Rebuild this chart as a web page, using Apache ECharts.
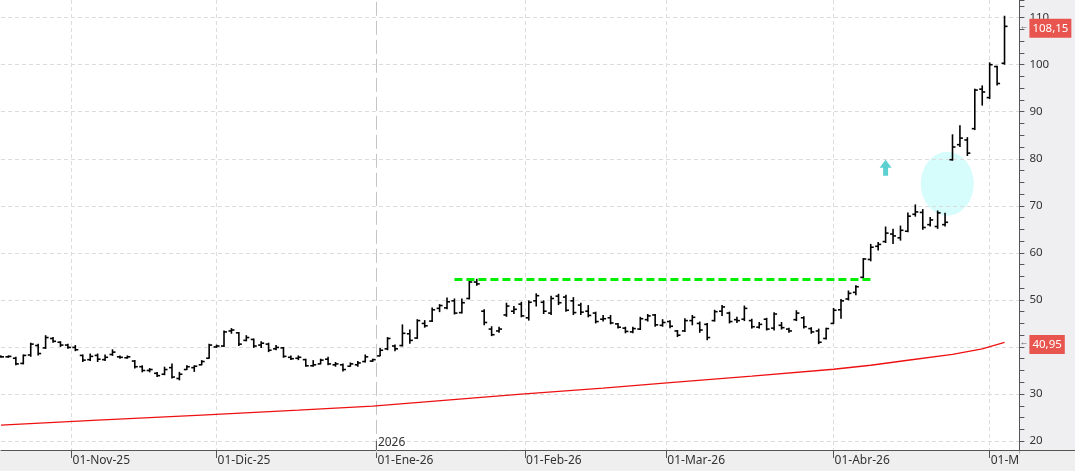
<!DOCTYPE html>
<html><head><meta charset="utf-8">
<script src="https://cdn.jsdelivr.net/npm/echarts@6/dist/echarts.min.js"></script>
<style>html,body{margin:0;padding:0;background:#fff}#c{width:1075px;height:471px}</style>
</head><body><div id="c"></div>
<script>
// ---- data ----
const startDate = '2025-10-20';
const holidays = ['2025-11-27','2025-12-25','2026-01-01','2026-01-19','2026-02-16','2026-04-03'];
const slotCount = 138; // 136 sessions + 2 empty future slots
const monthNames = ['Ene','Feb','Mar','Abr','May','Jun','Jul','Ago','Sep','Oct','Nov','Dic'];

const highP = [38.2,38.2,37.9,38.4,40.9,40.7,42.5,42.1,41.2,40.7, 40.4,38.4,38.6,38.6,38.4,39.5,38.2,38.2,37.2,36.1,
  35.5,34.7,35.8,36.5,34.7,36.1,36.1,37.2,40.7,40.5, 43.5,44.0,43.2,42.5,41.8,41.2,40.9,40.4,40.0,38.2,
  38.2,37.5,37.2,37.5,37.9,36.8,36.5,36.7,37.0,38.4, 37.5,39.8,42.1,40.5,44.8,43.7,45.9,45.7,48.4,49.1,
  50.5,50.3,50.3,54.3,54.5,48.0,44.4,44.3,49.4,48.7, 49.6,49.9,51.4,49.9,50.9,51.3,51.1,50.6,49.4,48.9,
  47.5,46.8,46.8,45.1,44.3,44.3,46.4,47.0,47.0,45.9, 45.7,43.6,46.1,46.8,45.4,45.1,47.9,48.9,47.5,46.4,
  48.8,46.0,45.3,46.2,47.4,45.3,44.1,47.8,46.5,44.2, 43.9,44.1,48.3,50.2,52.0,53.1,58.9,61.9,62.3,65.6,
  65.1,65.8,68.6,70.3,69.3,67.6,69.0,68.5,85.2,87.1, 84.6,94.9,95.6,100.5,99.8,110.4];
const lowP = [37.7,37.7,36.1,36.3,37.9,38.2,39.6,40.9,40.0,39.6, 39.1,36.8,37.0,36.8,37.0,38.1,37.5,37.5,35.4,34.6,
  34.6,33.6,34.0,33.3,32.9,35.1,34.7,36.1,37.5,39.8, 40.0,42.8,40.2,41.2,39.8,39.8,38.9,39.3,37.7,37.2,
  37.2,35.8,35.8,36.3,36.1,35.8,34.8,35.8,35.8,36.7, 36.8,38.0,39.3,39.1,40.1,40.7,41.7,44.1,45.3,47.4,
  48.0,46.9,47.1,50.1,53.0,44.6,42.3,43.0,46.4,47.0, 46.3,45.6,48.6,47.0,46.8,48.9,47.5,46.8,46.8,46.3,
  45.0,45.4,44.8,43.9,42.9,42.9,43.6,45.4,44.3,44.3, 44.0,42.1,43.2,44.6,43.0,41.4,45.4,46.6,45.0,45.1,
  45.5,43.9,43.9,43.5,43.5,43.7,43.0,45.5,43.9,42.8, 40.6,41.6,44.9,46.0,49.9,51.0,54.5,58.2,60.5,62.1,
  61.9,62.6,64.4,67.7,64.9,65.6,65.1,65.6,79.6,82.5, 80.6,86.1,91.3,92.7,95.6,100.0];
const openP = [38.0,37.9,37.6,36.5,38.3,40.3,39.8,41.8,41.0,40.4, 39.9,38.2,37.3,38.2,37.3,38.4,37.9,37.7,37.0,35.8,
  35.0,34.4,34.2,35.6,33.3,35.2,35.6,36.2,37.6,40.0, 40.2,43.4,43.0,41.4,41.6,40.4,40.6,39.6,39.8,37.8,
  37.6,37.3,36.0,36.4,37.4,36.2,36.2,35.9,36.2,36.9, 37.0,38.1,39.6,40.2,40.3,42.8,41.9,45.0,45.5,48.2,
  48.3,49.8,47.3,50.3,53.8,47.6,43.8,43.4,46.8,47.6, 49.1,46.2,49.8,49.5,47.2,50.8,50.6,49.8,48.9,47.6,
  47.2,45.9,46.2,44.9,44.0,43.2,43.8,45.8,46.8,44.6, 45.4,43.4,43.4,45.6,45.0,44.8,45.6,47.6,47.2,45.8,
  45.9,45.6,44.2,45.9,44.0,44.6,43.8,45.8,46.2,43.9, 43.4,41.8,45.0,47.9,50.2,51.6,54.8,58.6,61.4,62.4,
  64.0,63.2,64.6,68.2,68.6,66.0,65.6,66.0,79.8,83.0, 84.0,86.4,94.8,93.0,99.6,100.3];
const closeP = [37.9,38.0,36.4,38.2,40.6,38.6,42.0,41.2,40.4,39.9, 39.4,37.2,38.0,37.4,37.8,38.9,37.8,37.9,35.8,35.0,
  35.2,33.9,35.2,33.6,34.2,35.8,35.9,36.9,40.4,40.2, 43.2,43.6,40.6,42.0,40.2,40.8,39.3,39.9,38.0,37.5,
  37.8,36.0,36.2,37.2,36.4,36.4,35.2,36.4,36.6,37.9, 37.3,39.3,41.8,39.6,42.9,41.4,45.6,44.5,47.9,48.8,
  49.6,47.2,49.4,53.8,53.4,45.2,42.6,43.8,48.7,48.0, 46.6,49.5,50.9,47.6,50.3,49.4,47.8,47.3,47.4,46.7,
  45.4,46.0,45.1,44.2,43.3,43.9,46.0,46.6,44.7,45.2, 44.4,42.5,45.6,46.3,43.6,42.0,47.5,48.5,45.4,45.6,
  48.2,44.3,44.8,43.8,47.0,44.1,43.4,47.2,44.3,43.2, 41.0,43.9,47.8,49.8,51.4,52.8,58.7,61.2,61.8,64.2,
  63.6,64.8,67.8,68.7,65.4,67.0,68.5,66.5,82.5,84.4, 81.2,94.6,94.2,100.0,96.0,108.15];

// moving average, read at selected sessions
const maIndex = [0,13,27,40,50,60,70,81,90,101,112,117,122,128,132,135];
const maValue = [23.39,24.45,25.51,26.57,27.42,28.69,29.96,31.24,32.40,33.78,35.26,36.11,37.17,38.44,39.61,40.95];

// resistance line & signals (session index, price)
const resistanceLevel = 54.3;
const resistanceFrom = 61;
const resistanceTo = 117;
const signalArrow = [119.0, 78.1];
const signalEllipse = [127.3, 74.7];

// ---- derived categories (half-session slots so month marks can sit between sessions) ----
const dates = [];
{
  const d = new Date(startDate + 'T00:00:00Z');
  while (dates.length < slotCount) {
    const dow = d.getUTCDay();
    const iso = d.toISOString().slice(0, 10);
    if (dow !== 0 && dow !== 6 && !holidays.includes(iso)) dates.push(iso);
    d.setUTCDate(d.getUTCDate() + 1);
  }
}
const slots = [];
for (let k = 0; k <= 2 * (slotCount - 1); k++) slots.push(dates[Math.ceil(k / 2)]);
const markSlots = new Set();
let yearSession = -1;
for (let i = 1; i < dates.length; i++) {
  if (dates[i].slice(5, 7) !== dates[i - 1].slice(5, 7)) {
    markSlots.add(dates[i].slice(8, 10) === '01' ? 2 * i : 2 * i - 1);
  }
  if (yearSession < 0 && dates[i].slice(0, 4) !== dates[i - 1].slice(0, 4)) yearSession = i;
}
const yearSlot = dates[yearSession].slice(8, 10) === '01' ? 2 * yearSession : 2 * yearSession - 1;
const yearPos = yearSlot / 2;
const fmtDate = s => '01-' + monthNames[+s.slice(5, 7) - 1] + '-' + s.slice(2, 4);
const fmtNum = v => v.toFixed(2).replace('.', ',');

const ohlc = openP.map((o, i) => [i, o, highP[i], lowP[i], closeP[i]]);
const maData = maIndex.map((x, k) => [x, maValue[k]]);
const lastClose = closeP[closeP.length - 1];
const lastMa = maValue[maValue.length - 1];

const FONT = "'Noto Sans', 'Open Sans', sans-serif";
const AX = '#555';
const GRIDC = '#dcdcdc';
const NONE = 'rgba(0,0,0,0)';

const chart = echarts.init(document.getElementById('c'), null, {renderer: 'canvas'});

function tag(v) {
  return {
    show: true, position: 'end', distance: 0, offset: [0, 2],
    formatter: () => '{a|←}{b|' + fmtNum(v) + '}',
    rich: {
      a: {color: '#666', fontSize: 9, fontFamily: FONT, padding: [0, 1, 4, 0]},
      b: {color: '#fff', backgroundColor: '#e8554f', fontSize: 11.5, fontFamily: FONT, padding: [4, 3, 3, 3]}
    }
  };
}

chart.setOption({
  animation: false,
  backgroundColor: '#ffffff',
  grid: {left: 1, right: 55.6, top: -1.2, bottom: 18.2, containLabel: false},
  xAxis: [
    {
      type: 'category', data: slots, boundaryGap: false, position: 'bottom', offset: -2.8,
      axisLine: {show: true, onZero: false, lineStyle: {color: AX}},
      axisTick: {show: true, interval: (k) => markSlots.has(k), length: 8, lineStyle: {color: AX}},
      axisLabel: {interval: (k) => markSlots.has(k), formatter: fmtDate, align: 'left', margin: 5,
        padding: [0, 0, 0, 1], color: '#333', fontSize: 12, fontFamily: FONT},
      splitLine: {show: true, interval: (k) => markSlots.has(k) && k !== yearSlot,
        lineStyle: {color: GRIDC, type: [4, 3]}}
    },
    {
      type: 'value', min: 0, max: slotCount - 1, show: false
    }
  ],
  yAxis: [
    {
      type: 'value', position: 'right', min: 17.5, max: 113.75, interval: 2.5, z: 2,
      axisLine: {show: true, onZero: false, lineStyle: {color: AX}},
      axisTick: {show: true, length: 5, lineStyle: {color: AX}},
      axisLabel: {color: '#333', fontSize: 11.5, fontFamily: FONT, margin: 10,
        formatter: (v) => (Math.abs(v - Math.round(v / 10) * 10) < 1e-6 ? String(Math.round(v)) : '')},
      splitLine: {show: true, showMinLine: true, showMaxLine: true,
        lineStyle: {color: [NONE, GRIDC, NONE, NONE], type: [4, 3]}}
    }
  ],
  series: [
    {
      type: 'scatter', xAxisIndex: 1, yAxisIndex: 0, z: 1, silent: true,
      data: [signalEllipse], symbol: 'circle', symbolSize: [53, 64],
      itemStyle: {color: '#ccfbfb'}
    },
    {
      type: 'custom', xAxisIndex: 1, yAxisIndex: 0, z: 3, silent: true,
      data: ohlc, encode: {x: 0, y: [1, 2, 3, 4]},
      renderItem: function (params, api) {
        const x = api.value(0);
        const pO = api.coord([x, api.value(1)]);
        const pH = api.coord([x, api.value(2)]);
        const pL = api.coord([x, api.value(3)]);
        const pC = api.coord([x, api.value(4)]);
        const cx = pH[0];
        const st = {stroke: '#000', lineWidth: 1.6};
        return {
          type: 'group',
          children: [
            {type: 'line', shape: {x1: cx, y1: pH[1], x2: cx, y2: pL[1]}, style: st},
            {type: 'line', shape: {x1: cx - 3, y1: pO[1], x2: cx, y2: pO[1]}, style: st},
            {type: 'line', shape: {x1: cx, y1: pC[1], x2: cx + 3, y2: pC[1]}, style: st}
          ]
        };
      }
    },
    {
      type: 'scatter', xAxisIndex: 1, yAxisIndex: 0, z: 3, silent: true,
      data: [signalArrow],
      symbol: 'path://M6,0 L12,8 L8.5,8 L8.5,16 L3.5,16 L3.5,8 L0,8 Z', symbolSize: [12, 16],
      itemStyle: {color: '#33c4c4'}
    },
    {
      type: 'line', xAxisIndex: 1, yAxisIndex: 0, z: 5, silent: true,
      data: maData, showSymbol: false, symbol: 'none',
      lineStyle: {color: '#ee1111', width: 1.3},
      markPoint: {
        silent: true, animation: false,
        data: [{
          coord: [yearPos, 19.05], symbol: 'rect', symbolSize: [1, 9], itemStyle: {color: AX},
          label: {show: true, position: 'right', distance: 1, offset: [0, -3], formatter: () => dates[yearSession].slice(0, 4),
            color: '#333', fontSize: 12, fontFamily: FONT}
        }]
      },
      markLine: {
        silent: true, symbol: ['none', 'none'], animation: false,
        data: [
          [{coord: [resistanceFrom, resistanceLevel], lineStyle: {color: '#00ee00', width: 3, type: [8, 4]}, label: {show: false}},
           {coord: [resistanceTo, resistanceLevel]}],
          {xAxis: yearPos, lineStyle: {color: '#c4c4c4', width: 1, type: [14, 5]}, label: {show: false}},
          {yAxis: lastClose, lineStyle: {color: NONE, width: 0}, label: tag(lastClose)},
          {yAxis: lastMa, lineStyle: {color: NONE, width: 0}, label: tag(lastMa)}
        ]
      }
    }
  ],
  graphic: [
    {type: 'rect', z: -1, silent: true, shape: {x: 0, y: 450, width: 1075, height: 21}, style: {fill: '#efefef'}},
    {type: 'rect', z: 1, silent: true, shape: {x: 1019.4, y: 0, width: 56, height: 450}, style: {fill: '#efeff2'}},
    {type: 'rect', z: 3, silent: true, shape: {x: 1019.4, y: 450, width: 56, height: 21}, style: {fill: '#efefef'}},
    {type: 'line', z: 4, silent: true, shape: {x1: 1018, y1: 450.5, x2: 1075, y2: 450.5}, style: {stroke: AX, lineWidth: 1}}
  ]
});
</script></body></html>
